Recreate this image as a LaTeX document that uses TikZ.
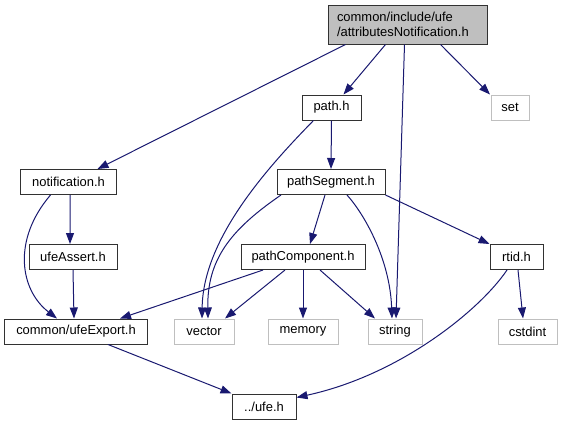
\documentclass[tikz,border=0pt]{standalone}
\usepackage{fontspec}
\setmainfont{Liberation Sans}
\usepackage{xcolor}
\usepackage{tikz}
\usetikzlibrary{arrows.meta}
\definecolor{edgeblue}{RGB}{25,25,112}
\definecolor{boxline}{RGB}{50,50,50}
\definecolor{sysline}{RGB}{191,191,191}
\definecolor{rootfill}{RGB}{191,191,191}
\tikzset{
  hdr/.style ={draw=boxline, line width=1bp, minimum width=#1, minimum height=25bp,
               inner sep=0pt, font=\fontsize{13}{15}\selectfont},
  sys/.style ={hdr=#1, draw=sysline},
  top/.style ={draw=boxline, fill=rootfill, line width=1bp, minimum width=159bp,
               minimum height=39bp, inner xsep=9bp, inner ysep=0pt, align=left,
               text width=141bp, font=\fontsize{13}{15}\selectfont},
  dep/.style ={draw=edgeblue, line width=1bp, -{Triangle[length=11bp,width=8bp]}},
}
\begin{document}
\begin{tikzpicture}[x=1bp,y=-1bp]
  \useasboundingbox (0,0) rectangle (562,425);
  \node[top] (root) at (407.5,24.5) {common/include/ufe\\/attributesNotification.h};
  \node[hdr=59bp] (path) at (331.5,107.5) {path.h};
  \node[sys=38bp] (set) at (510,107.5) {set};
  \node[hdr=95bp] (notif) at (68.5,182) {notification.h};
  \node[hdr=108bp] (pseg) at (331,182) {pathSegment.h};
  \node[hdr=88bp] (uassert) at (73,257) {ufeAssert.h};
  \node[hdr=124bp] (pcomp) at (303,257) {pathComponent.h};
  \node[hdr=53bp] (rtid) at (516.5,257) {rtid.h};
  \node[hdr=143bp] (uexport) at (76,331.5) {common/ufeExport.h};
  \node[sys=60bp] (vector) at (204,331.5) {vector};
  \node[sys=70bp] (memory) at (303,331.5) {memory};
  \node[sys=54bp] (string) at (395,331.5) {string};
  \node[sys=59bp] (cstdint) at (527.5,331.5) {cstdint};
  \node[hdr=64bp] (ufe) at (264,406.5) {../ufe.h};

  \draw[dep] ([xshift=-62bp]root.south) -- ([xshift=29bp]notif.north);
  \draw[dep] ([xshift=-22bp]root.south) -- ([xshift=12bp]path.north);
  \draw[dep] ([xshift=-3bp]root.south) -- ([xshift=1bp]string.north);
  \draw[dep] ([xshift=33bp]root.south) -- ([xshift=-20bp]set.north);
  \draw[dep] ([xshift=-18bp]path.south) .. controls (265,170) and (203,240) .. ([xshift=-2bp]vector.north);
  \draw[dep] (path.south) -- (pseg.north);
  \draw[dep] ([xshift=-18bp]notif.south) .. controls (12,240) and (20,290) .. ([xshift=-19bp]uexport.north);
  \draw[dep] ([xshift=1.5bp]notif.south) -- ([xshift=-3bp]uassert.north);
  \draw[dep] (uassert.south) -- ([xshift=-2bp]uexport.north);
  \draw[dep] ([xshift=-50bp]pseg.south) .. controls (230,230) and (207,260) .. ([xshift=4bp]vector.north);
  \draw[dep] ([xshift=-6bp]pseg.south) -- ([xshift=7bp]pcomp.north);
  \draw[dep] ([xshift=16bp]pseg.south) .. controls (365,215) and (390,260) .. ([xshift=-3bp]string.north);
  \draw[dep] (pseg.south east) -- (rtid.north west);
  \draw[dep] ([xshift=-40bp]pcomp.south) -- ([xshift=44bp]uexport.north);
  \draw[dep] ([xshift=-18bp]pcomp.south) -- ([xshift=21bp]vector.north);
  \draw[dep] (pcomp.south) -- (memory.north);
  \draw[dep] ([xshift=17bp]pcomp.south) -- ([xshift=-20bp]string.north);
  \draw[dep] ([xshift=1.5bp]rtid.south) -- ([xshift=-4.5bp]cstdint.north);
  \draw[dep] ([xshift=-9.5bp]rtid.south) .. controls (480,310) and (400,375) .. ([yshift=-4bp]ufe.north east);
  \draw[dep] ([xshift=32bp]uexport.south) -- (ufe.north west);
\end{tikzpicture}
\end{document}
